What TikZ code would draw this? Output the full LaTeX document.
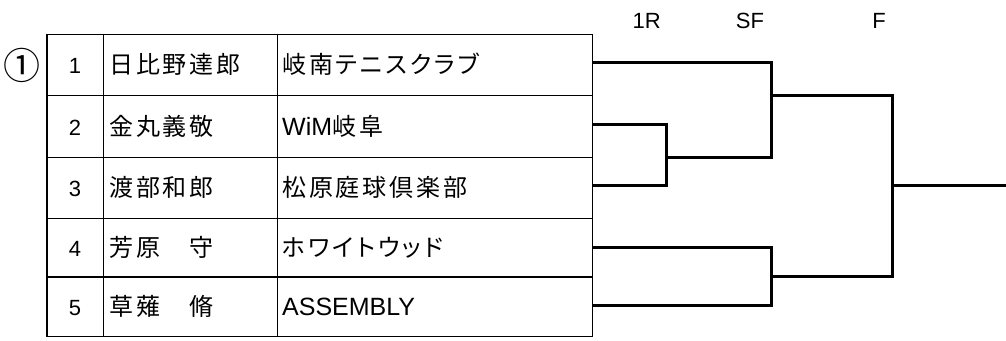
\documentclass[tikz,border=0pt]{standalone}
\usepackage{fontspec}
\setmainfont{Liberation Sans}
\newfontfamily\jp{Noto Sans CJK JP}
\newfontfamily\jpname[LetterSpace=12]{Noto Sans CJK JP}
\newfontfamily\jpclub[RawFeature=+palt,LetterSpace=12]{Noto Sans CJK JP}
\begin{document}
\begin{tikzpicture}[x=1pt,y=-1pt,
  gridline/.style={line width=1.1pt},
  bracket/.style={line width=3pt, line join=miter},
  num/.style={inner sep=0pt, anchor=base, font=\fontsize{22}{22}\selectfont},
  nm/.style={inner sep=0pt, anchor=base west, font=\jpname\fontsize{24}{24}\selectfont},
  club/.style={inner sep=0pt, anchor=base west, font=\fontsize{25}{25}\selectfont},
  hdr/.style={inner sep=0pt, anchor=base, font=\fontsize{22}{22}\selectfont}]
\useasboundingbox (0,0) rectangle (1006,340);
\fill[white] (0,0) rectangle (1006,340);
% table
\draw[gridline] (47,34.3) rectangle (592.3,336.7);
\foreach \yy in {95.7,157.3,218.7,277} \draw[gridline] (47,\yy) -- (592.3,\yy);
\draw[gridline] (103.3,34.3) -- (103.3,336.7);
\draw[gridline] (277.3,34.3) -- (277.3,336.7);
% group mark
\node[inner sep=0pt, font=\jp\fontsize{37}{37}\selectfont] (grp) at (21.5,65) {①};
% rows
\node[num] (n1) at (75,73.5) {1};
\node[num] (n2) at (75,135) {2};
\node[num] (n3) at (75,196.5) {3};
\node[num] (n4) at (75,256.4) {4};
\node[num] (n5) at (75,315.4) {5};
\node[nm] (a1) at (109,73.5) {日比野達郎};
\node[nm] (a2) at (109,135) {金丸義敬};
\node[nm] (a3) at (109,196.5) {渡部和郎};
\node[nm] (a4) at (109,256.4) {芳原　守};
\node[nm] (a5) at (109,315.4) {草薙　脩};
\node[club] (c1) at (282,73.5) {{\jpclub\fontsize{24}{24}\selectfont 岐南テニスクラブ}};
\node[club] (c2) at (282,135) {WiM{\jpclub\fontsize{24}{24}\selectfont 岐阜}};
\node[club] (c3) at (282,196.5) {{\jpclub\fontsize{24}{24}\selectfont 松原庭球倶楽部}};
\node[club] (c4) at (282,256.4) {{\jpclub\fontsize{24}{24}\selectfont ホワイトウッド}};
\node[club] (c5) at (282,315.4) {ASSEMBLY};
% headers
\node[hdr] (h1) at (646.7,28.3) {1R};
\node[hdr] (h2) at (750,28.3) {SF};
\node[hdr] (h3) at (879,28.3) {F};
% bracket
\coordinate (p1) at (592.3,62.3);
\coordinate (p2) at (592.3,124.3);
\coordinate (p3) at (592.3,185.3);
\coordinate (p4) at (592.3,247.3);
\coordinate (p5) at (592.3,305);
\coordinate (r1) at (666.7,157);
\coordinate (s1) at (771.7,95.7);
\coordinate (s2) at (771.7,276.3);
\coordinate (fin) at (892.3,185.3);
\coordinate (win) at (1006,185.3);
\draw[bracket] (p2) -| (r1) |- (p3);
\draw[bracket] (p1) -| (s1) |- (r1);
\draw[bracket] (p4) -| (s2) |- (p5);
\draw[bracket] (s1) -| (fin) |- (s2);
\draw[bracket] (fin) -- (win);
\end{tikzpicture}
\end{document}
